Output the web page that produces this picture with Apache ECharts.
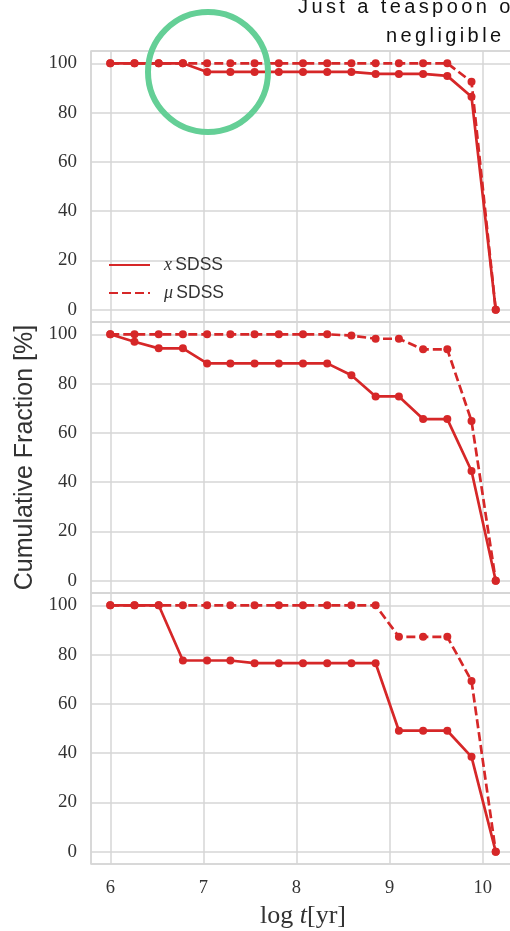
<!DOCTYPE html>
<html>
<head>
<meta charset="UTF-8">
<title>Cumulative Fraction</title>
<script src="https://cdn.jsdelivr.net/npm/echarts@6.0.0/dist/echarts.min.js"></script>
<style>
  html, body { margin: 0; padding: 0; background: #fff; }
  #chart { width: 510px; height: 931px; }
</style>
</head>
<body>
<div id="chart"></div>
<script>
// log t [yr] sample points
var logT = [6.00, 6.26, 6.52, 6.78, 7.04, 7.29, 7.55, 7.81, 8.07, 8.33, 8.59, 8.85, 9.10, 9.36, 9.62, 9.88, 10.14];

// cumulative fractions [%], one pair per panel
var xTop = [100, 100, 100, 100, 96.5, 96.5, 96.5, 96.5, 96.5, 96.5, 96.5, 95.7, 95.7, 95.7, 94.9, 86.4, 0];
var muTop = [100, 100, 100, 100, 100, 100, 100, 100, 100, 100, 100, 100, 100, 100, 100, 92.5, 0];
var xMid = [100, 97.0, 94.3, 94.3, 88.2, 88.2, 88.2, 88.2, 88.2, 88.2, 83.4, 74.8, 74.8, 65.6, 65.6, 44.5, 0];
var muMid = [100, 100, 100, 100, 100, 100, 100, 100, 100, 100, 99.5, 98.2, 98.2, 93.9, 93.9, 64.8, 0];
var xBot = [100, 100, 100, 77.6, 77.6, 77.6, 76.5, 76.5, 76.5, 76.5, 76.5, 76.5, 49.1, 49.1, 49.1, 38.5, 0];
var muBot = [100, 100, 100, 100, 100, 100, 100, 100, 100, 100, 100, 100, 87.2, 87.2, 87.2, 69.3, 0];

var yTicks = [0, 20, 40, 60, 80, 100];
var xTicks = [6, 7, 8, 9, 10];

var red = '#d62728';
var gridColor = '#d6d6d6';
var serif = 'Liberation Serif';
var sans = 'Liberation Sans';

function pairs(ys) {
    return logT.map(function (t, i) { return [t, ys[i]]; });
}

// spread letters like the original title
function spaced(str) {
    return str.split('').map(function (c) { return '{c|' + c + '}'; }).join('');
}

var chart = echarts.init(document.getElementById('chart'));

var tops = [51, 322, 593];
var grids = tops.map(function (t) {
    return {
        left: 91, width: 424, top: t, height: 271, outerBoundsMode: 'none',
        show: true, borderColor: gridColor, borderWidth: 1.5
    };
});

var xAxes = tops.map(function (t, i) {
    return {
        type: 'value', gridIndex: i, min: 5.793, max: 10.347,
        axisLine: { show: false }, axisTick: { show: false },
        splitLine: { lineStyle: { color: gridColor, width: 1.5 } },
        axisLabel: {
            show: i === 2, margin: 15, color: '#333', fontFamily: serif, fontSize: 18.5,
            formatter: function (v) { return xTicks.indexOf(v) >= 0 ? String(v) : ''; }
        },
        name: i === 2 ? 'log {i|t}[yr]' : '',
        nameLocation: 'middle', nameGap: 39,
        nameTextStyle: {
            fontFamily: serif, fontSize: 26, color: '#333',
            rich: { i: { fontFamily: serif, fontSize: 26, fontStyle: 'italic', color: '#333' } }
        }
    };
});

var yAxes = tops.map(function (t, i) {
    return {
        type: 'value', gridIndex: i, min: -5, max: 105,
        axisLine: { show: false }, axisTick: { show: false },
        splitLine: { lineStyle: { color: gridColor, width: 1.5 } },
        axisLabel: {
            margin: 14, color: '#333', fontFamily: serif, fontSize: 19,
            formatter: function (v) { return yTicks.indexOf(v) >= 0 ? String(v) : ''; }
        },
        name: i === 1 ? 'Cumulative Fraction [%]' : '',
        nameLocation: 'middle', nameGap: 48,
        nameTextStyle: { fontFamily: sans, fontSize: 25, color: '#333' }
    };
});

function lineSeries(name, ys, idx, dashed) {
    return {
        name: name, type: 'line', xAxisIndex: idx, yAxisIndex: idx,
        data: pairs(ys), symbol: 'circle', symbolSize: 8,
        itemStyle: { color: red },
        lineStyle: { color: red, width: 2.7, type: dashed ? [9, 4] : 'solid' },
        emphasis: { disabled: true }, animation: false
    };
}

chart.setOption({
    animation: false,
    grid: grids,
    xAxis: xAxes,
    yAxis: yAxes,
    legend: {
        orient: 'vertical', left: 108, top: 256, padding: 0,
        itemWidth: 41, itemHeight: 14, itemGap: 10,
        itemStyle: { opacity: 0 },
        data: ['x SDSS', 'μ SDSS'],
        formatter: function (name) {
            var parts = name.split(' ');
            return '{m|' + parts[0] + '} {s|' + parts[1] + '}';
        },
        textStyle: {
            padding: [0, 0, 0, 9],
            rich: {
                m: { fontFamily: serif, fontStyle: 'italic', fontSize: 18, color: '#333' },
                s: { fontFamily: sans, fontSize: 17.5, color: '#333' }
            }
        }
    },
    series: [
        lineSeries('x SDSS', xTop, 0, false),
        lineSeries('μ SDSS', muTop, 0, true),
        lineSeries('x SDSS', xMid, 1, false),
        lineSeries('μ SDSS', muMid, 1, true),
        lineSeries('x SDSS', xBot, 2, false),
        lineSeries('μ SDSS', muBot, 2, true)
    ],
    graphic: [
        {
            type: 'text', left: 298, top: -3, z: 10,
            style: {
                text: spaced('Just a teaspoon of'), fill: '#111',
                rich: { c: { fontFamily: sans, fontSize: 20, fill: '#111', padding: [0, 3.4, 0, 0] } }
            }
        },
        {
            type: 'text', left: 386, top: 26, z: 10,
            style: {
                text: spaced('negligible'), fill: '#111',
                rich: { c: { fontFamily: sans, fontSize: 20, fill: '#111', padding: [0, 3.4, 0, 0] } }
            }
        },
        {
            type: 'circle', z: 20,
            shape: { cx: 208, cy: 72, r: 60 },
            style: { fill: 'none', stroke: '#64cf96', lineWidth: 6 }
        }
    ]
});
</script>
</body>
</html>
